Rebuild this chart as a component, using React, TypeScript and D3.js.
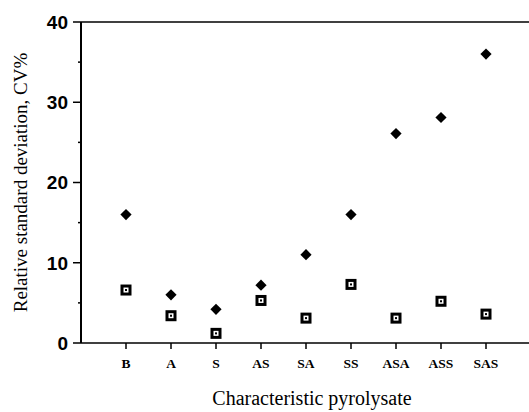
import * as d3 from 'd3';
import React from 'react';

// Characteristic pyrolysates
const categories = ['B', 'A', 'S', 'AS', 'SA', 'SS', 'ASA', 'ASS', 'SAS'];
// filled diamonds
const seriesDiamond = [16, 6, 4.2, 7.2, 11, 16, 26.1, 28.1, 36];
// open squares
const seriesSquare = [6.6, 3.4, 1.2, 5.3, 3.1, 7.3, 3.1, 5.2, 3.6];
const yTicks = [0, 10, 20, 30, 40];
const yMinorTicks = [5, 15, 25, 35];

const W = 529;
const H = 412;
const margin = { top: 22, right: 0, bottom: 69, left: 81 };

const App = () => {
  const x = d3
    .scalePoint<string>()
    .domain(categories)
    .range([margin.left, W + 2])
    .padding(1);

  const y = d3
    .scaleLinear()
    .domain([0, 40])
    .range([H - margin.bottom, margin.top]);

  const diamond = d3.symbol().type(d3.symbolDiamond2).size(80)();

  return (
    <svg
      width={W}
      height={H}
      style={{ position: 'absolute', left: 0, top: 0, background: '#fff' }}
    >
      {/* frame: left, top, bottom */}
      <line x1={margin.left} x2={margin.left} y1={y(40)} y2={y(0)} stroke="#000" strokeWidth={2} />
      <line x1={margin.left} x2={W} y1={y(40)} y2={y(40)} stroke="#000" strokeWidth={1.6} />
      <line x1={margin.left} x2={W} y1={y(0)} y2={y(0)} stroke="#000" strokeWidth={1.6} />

      {/* Y axis ticks */}
      {yTicks.map((t) => (
        <g key={t}>
          <line x1={margin.left - 8} x2={margin.left} y1={y(t)} y2={y(t)} stroke="#000" strokeWidth={1.5} />
          <text
            x={margin.left - 13}
            y={y(t)}
            dy="0.36em"
            textAnchor="end"
            fontFamily="Liberation Sans, Arial, sans-serif"
            fontWeight="bold"
            fontSize={19}
          >
            {t}
          </text>
        </g>
      ))}
      {yMinorTicks.map((t) => (
        <line key={t} x1={margin.left - 3} x2={margin.left} y1={y(t)} y2={y(t)} stroke="#000" strokeWidth={1.5} />
      ))}

      {/* X axis ticks and labels */}
      {categories.map((c) => (
        <g key={c}>
          <line x1={x(c)} x2={x(c)} y1={y(0)} y2={y(0) + 6} stroke="#000" strokeWidth={1.5} />
          <text
            x={x(c)}
            y={y(0) + 25}
            textAnchor="middle"
            fontFamily="Liberation Serif, Times New Roman, serif"
            fontWeight="bold"
            fontSize={13.5}
          >
            {c}
          </text>
        </g>
      ))}

      {/* series: open squares */}
      {categories.map((c, i) => (
        <g key={'s' + c} transform={`translate(${x(c)},${y(seriesSquare[i])})`}>
          <rect x={-4} y={-4} width={8} height={8} fill="#fff" stroke="#000" strokeWidth={3} />
          <rect x={-1} y={-1} width={2} height={2} fill="#000" />
        </g>
      ))}

      {/* series: filled diamonds */}
      {categories.map((c, i) => (
        <path key={'d' + c} d={diamond} transform={`translate(${x(c)},${y(seriesDiamond[i])})`} fill="#000" />
      ))}

      {/* axis titles */}
      <text
        x={312}
        y={405}
        textAnchor="middle"
        fontFamily="Liberation Serif, Times New Roman, serif"
        fontSize={20}
      >
        Characteristic pyrolysate
      </text>
      <text
        transform={`translate(27,${(y(0) + y(40)) / 2}) rotate(-90)`}
        textAnchor="middle"
        fontFamily="Liberation Serif, Times New Roman, serif"
        fontSize={19}
      >
        Relative standard deviation, CV%
      </text>
    </svg>
  );
};

export default App;
